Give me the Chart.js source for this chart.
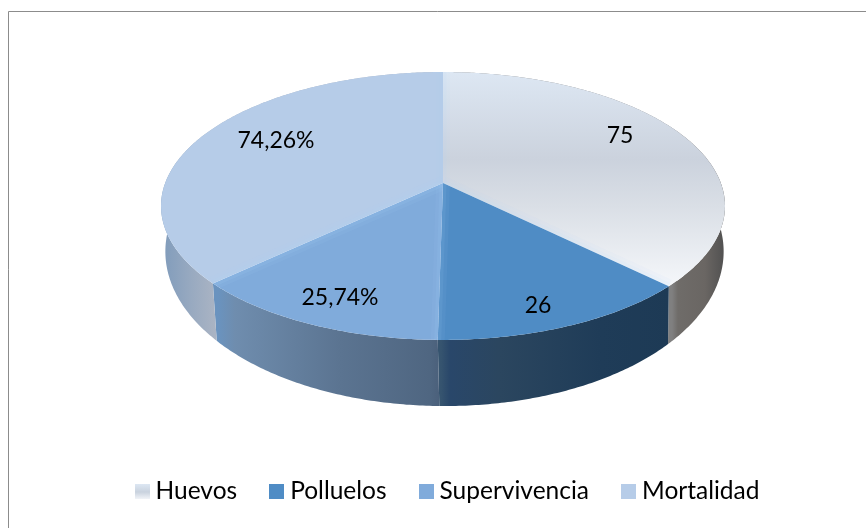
<!DOCTYPE html>
<html>
<head>
<meta charset="utf-8">
<style>html,body{margin:0;padding:0;background:#fff}canvas{display:block}</style>
<script src="https://cdn.jsdelivr.net/npm/chart.js@4"></script>
</head>
<body>
<canvas id="c" width="866" height="528"></canvas>
<script>
const categories = ['Huevos', 'Polluelos', 'Supervivencia', 'Mortalidad'];
const values = [75, 26, 25.74, 74.26];
const valueLabels = ['75', '26', '25,74%', '74,26%'];
const faceColors = ['#d6dfeb', '#4f8cc5', '#80abdb', '#b6cce8'];

const labelPos = [[620, 136], [538, 306], [340, 298], [276, 141]];
const sideStops = [
  [[672,'#808080'],[678,'#6f6c69'],[705,'#6a6663'],[725,'#505050']],
  [[441,'#36546f'],[450,'#29476a'],[500,'#2b465f'],[600,'#1f3c58'],[672,'#1d3a55']],
  [[218,'#6a93bf'],[235,'#6f8dae'],[340,'#5b7491'],[430,'#4f6681'],[441,'#4a5f7a']],
  [[161,'#7f9bbb'],[190,'#97a9c0'],[218,'#acb5c4']]
];
// which lit edges each slice shows: [start edge, end edge]
const edgeLight = [[0.6, 0.8], [0, 0.8], [0.8, 1], [0.8, 0.5]];
const F = 'Lato, Carlito, Calibri, sans-serif';
const SIZE = 23;
const LEGEND_SIZE = 24.5;

// perspective of the tilted disc: top face and bottom face
const top3d = {cx: 443, cy: 183, A: 277.8, B: 130, k: -0.1716};
const bot3d = {cx: 444.5, cy: 225, A: 275, B: 150, k: -0.1716};
const proj = (p, a, r = 1) => {
  const u = Math.cos(a) * r, v = Math.sin(a) * r, d = 1 + p.k * v;
  return [p.cx + p.A * u / d, p.cy + p.B * v / d];
};
const arcPts = (p, a0, a1) => {
  const n = Math.max(2, Math.ceil(Math.abs(a1 - a0) / 0.01)), out = [];
  for (let i = 0; i <= n; i++) out.push(proj(p, a0 + (a1 - a0) * i / n));
  return out;
};
const trace = (ctx, pts) => {
  ctx.beginPath();
  pts.forEach((q, i) => i ? ctx.lineTo(q[0], q[1]) : ctx.moveTo(q[0], q[1]));
  ctx.closePath();
};
const linGrad = (ctx, x0, y0, x1, y1, stops) => {
  const g = ctx.createLinearGradient(x0, y0, x1, y1);
  stops.forEach(s => g.addColorStop(s[0], s[1]));
  return g;
};

const pie3d = {
  id: 'pie3d',
  beforeDatasetsDraw(chart) {
    const ctx = chart.ctx, arcs = chart.getDatasetMeta(0).data;
    ctx.save();
    // sides
    arcs.forEach((el, i) => {
      const s = sideStops[i], x0 = s[0][0], x1 = s[s.length - 1][0];
      const pts = arcPts(top3d, el.startAngle, el.endAngle).concat(arcPts(bot3d, el.endAngle, el.startAngle));
      trace(ctx, pts);
      ctx.fillStyle = linGrad(ctx, x0, 0, x1, 0, s.map(t => [(t[0] - x0) / (x1 - x0), t[1]]));
      ctx.fill();
    });
    // top faces
    arcs.forEach((el, i) => {
      const pts = [[top3d.cx, top3d.cy]].concat(arcPts(top3d, el.startAngle, el.endAngle));
      trace(ctx, pts);
      ctx.fillStyle = i === 0
        ? linGrad(ctx, 0, 72, 0, 290, [[0, '#dde7f3'], [0.4, '#cbd2dd'], [0.62, '#dadfe6'], [1, '#f6f8fb']])
        : faceColors[i];
      ctx.fill();
    });
    // soft lit edges along the slice boundaries
    arcs.forEach((el, i) => {
      const pts = [[top3d.cx, top3d.cy]].concat(arcPts(top3d, el.startAngle, el.endAngle));
      ctx.save();
      trace(ctx, pts);
      ctx.clip();
      [el.startAngle, el.endAngle].forEach((a, j) => {
        const e = proj(top3d, a), m = edgeLight[i][j];
        [[14, 0.08], [7, 0.11]].forEach(w => {
          ctx.strokeStyle = 'rgba(170,215,255,' + w[1] * m + ')';
          ctx.lineWidth = w[0];
          ctx.beginPath();
          ctx.moveTo(top3d.cx, top3d.cy);
          ctx.lineTo(e[0], e[1]);
          ctx.stroke();
        });
      });
      ctx.restore();
    });
    ctx.restore();
    return false;
  },
  afterDraw(chart) {
    const ctx = chart.ctx;
    ctx.save();
    // chart frame
    ctx.strokeStyle = '#8c8c8c';
    ctx.lineWidth = 1;
    ctx.beginPath();
    ctx.moveTo(8.5, 528);
    ctx.lineTo(8.5, 11.5);
    ctx.lineTo(866, 11.5);
    ctx.stroke();
    ctx.fillStyle = '#000';
    ctx.font = SIZE + 'px ' + F;
    ctx.textAlign = 'center';
    ctx.textBaseline = 'middle';
    valueLabels.forEach((t, i) => ctx.fillText(t, labelPos[i][0], labelPos[i][1]));
    // legend
    ctx.font = LEGEND_SIZE + 'px ' + F;
    ctx.textAlign = 'left';
    ctx.textBaseline = 'alphabetic';
    const box = 15, gap = 6, pad = 32;
    const widths = categories.map(t => ctx.measureText(t).width);
    const total = widths.reduce((a, w) => a + w + box + gap, 0) + pad * 3;
    let x = 447 - total / 2;
    categories.forEach((t, i) => {
      ctx.fillStyle = i === 0
        ? linGrad(ctx, 0, 484, 0, 500, [[0, '#dde7f3'], [0.5, '#c9d2de'], [1, '#f6f8fb']])
        : faceColors[i];
      ctx.fillRect(Math.round(x), 484, box, 15);
      ctx.fillStyle = '#000';
      ctx.fillText(t, x + box + gap, 499);
      x += box + gap + widths[i] + pad;
    });
    ctx.restore();
  }
};

new Chart(document.getElementById('c'), {
  type: 'pie',
  data: {
    labels: categories,
    datasets: [{data: values, backgroundColor: faceColors, borderWidth: 0}]
  },
  options: {
    responsive: false,
    animation: false,
    layout: {padding: {left: 161, right: 141, top: 72, bottom: 122}},
    plugins: {legend: {display: false}, tooltip: {enabled: false}, title: {display: false}}
  },
  plugins: [pie3d]
});
</script>
</body>
</html>
